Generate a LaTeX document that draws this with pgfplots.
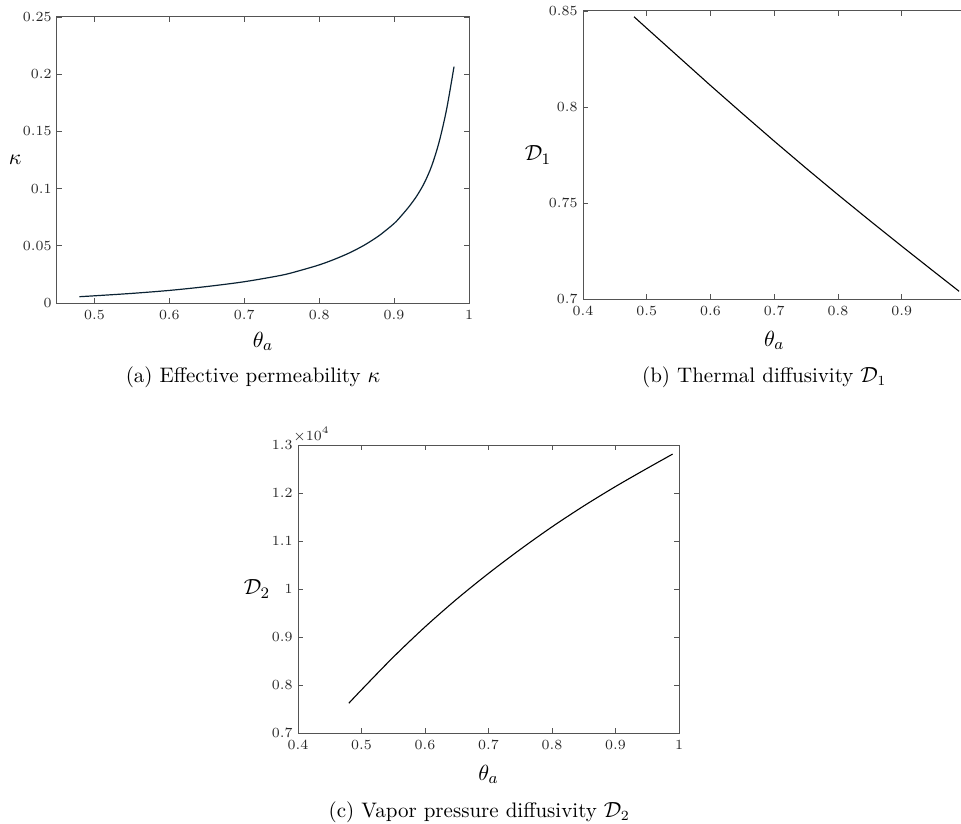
\documentclass[border=0pt]{standalone}
\usepackage{pgfplots}
\pgfplotsset{compat=1.18}
\definecolor{axgray}{rgb}{0.33,0.33,0.33}
\definecolor{txt}{rgb}{0.15,0.15,0.15}
\definecolor{curveA}{HTML}{0A2233}

\pgfplotsset{
  panel/.style={
    scale only axis,
    axis line style={draw=axgray,line width=0.5pt},
    tick style={draw=axgray,line width=0.45pt},
    major tick length=2.5pt,
    tick align=inside,
    tick pos=both,
    ticklabel style={font=\fontsize{7}{8}\selectfont,text=txt},
    every x tick label/.append style={inner sep=0pt,yshift=-3.5pt},
    every y tick label/.append style={inner sep=0pt,xshift=-2.5pt},
    scaled ticks=false,
    xticklabel style={/pgf/number format/fixed,/pgf/number format/precision=2},
    yticklabel style={/pgf/number format/fixed,/pgf/number format/precision=2},
    every axis x label/.style={at={(axis description cs:0.5,0)},anchor=north,inner sep=0pt,font=\fontsize{11}{13}\selectfont},
    every axis y label/.style={at={(axis description cs:0,0.5)},anchor=east,inner sep=0pt,font=\fontsize{11}{13}\selectfont},
  },
}

\begin{document}
\begin{tikzpicture}

% (a) effective permeability
\begin{axis}[panel,
  at={(28.5pt,-151.5pt)},anchor=south west,
  width=206pt,height=143pt,
  xmin=0.45,xmax=1,ymin=0,ymax=0.25,
  xtick={0.5,0.6,0.7,0.8,0.9,1},
  ytick={0,0.05,0.1,0.15,0.2,0.25},
  xlabel={$\theta_a$},ylabel={$\kappa$},
  xlabel style={yshift=-14.5pt},
  ylabel style={xshift=-17.5pt},
]
\addplot[color=curveA,line width=0.6pt,smooth] coordinates {
  (0.48,0.0055) (0.50,0.0063) (0.55,0.0084) (0.60,0.0110) (0.65,0.0144)
  (0.70,0.0186) (0.75,0.0243) (0.775,0.0285) (0.80,0.0333) (0.82,0.0381)
  (0.84,0.0437) (0.86,0.0505) (0.88,0.0589) (0.90,0.0695) (0.91,0.0765)
  (0.92,0.0843) (0.93,0.0933) (0.94,0.1045) (0.95,0.1195) (0.96,0.1405)
  (0.97,0.1690) (0.98,0.2066)
};
\end{axis}

% (b) thermal diffusivity
\begin{axis}[panel,
  at={(291.5pt,-149.5pt)},anchor=south west,
  width=191.25pt,height=144pt,
  xmin=0.4,xmax=1,ymin=0.7,ymax=0.85,
  xtick={0.4,0.5,0.6,0.7,0.8,0.9},
  ytick={0.7,0.75,0.8,0.85},
  xlabel={$\theta_a$},ylabel={$\mathcal{D}_1$},
  xlabel style={yshift=-16pt},
  ylabel style={xshift=-15.7pt},
]
\addplot[color=black,line width=0.55pt] coordinates {
  (0.48,0.8470) (0.50,0.8410) (0.55,0.8261) (0.60,0.8112) (0.65,0.7966)
  (0.70,0.7822) (0.75,0.7681) (0.80,0.7543) (0.85,0.7408) (0.90,0.7275)
  (0.95,0.7144) (0.99,0.7040)
};
\end{axis}

% (c) vapor pressure diffusivity
\begin{axis}[panel,
  at={(149pt,-366.5pt)},anchor=south west,
  width=190.5pt,height=144pt,
  xmin=0.4,xmax=1,ymin=7000,ymax=13000,
  xtick={0.4,0.5,0.6,0.7,0.8,0.9,1},
  ytick={7000,8000,9000,10000,11000,12000,13000},
  scaled y ticks=base 10:-4,
  ytick scale label code/.code={$\times10^{#1}$},
  every y tick scale label/.style={at={(rel axis cs:0,1)},anchor=base west,
    inner sep=0pt,yshift=2.5pt,font=\fontsize{7}{8}\selectfont,text=txt},
  xlabel={$\theta_a$},ylabel={$\mathcal{D}_2$},
  xlabel style={yshift=-16pt},
  ylabel style={xshift=-13.7pt},
]
\addplot[color=black,line width=0.55pt,smooth] coordinates {
  (0.48,7620) (0.50,7900) (0.55,8580) (0.60,9210) (0.65,9790)
  (0.70,10325) (0.75,10825) (0.80,11295) (0.85,11730) (0.90,12135)
  (0.95,12515) (0.99,12811)
};
\end{axis}

\node[anchor=base,font=\fontsize{10.5}{12}\selectfont,text=black] at (126.5pt,-191pt) {(a) Effective permeability $\kappa$};
\node[anchor=base,font=\fontsize{10.5}{12}\selectfont,text=black] at (382.1pt,-191pt) {(b) Thermal diffusivity $\mathcal{D}_1$};
\node[anchor=base,font=\fontsize{10.5}{12}\selectfont,text=black] at (239.6pt,-408.5pt) {(c) Vapor pressure diffusivity $\mathcal{D}_2$};

\pgfresetboundingbox
\path[use as bounding box] (0,0) rectangle (480.5pt,-411.5pt);
\end{tikzpicture}
\end{document}
